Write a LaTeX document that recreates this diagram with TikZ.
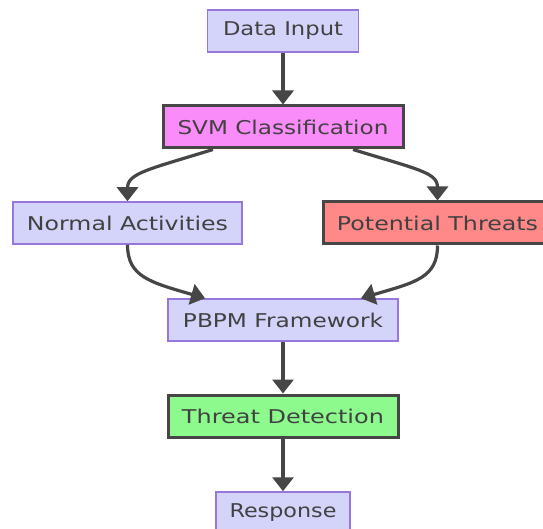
\documentclass[tikz,border=0pt]{standalone}
\usepackage{fontspec}
\setmainfont{DejaVu Sans}
\usetikzlibrary{arrows.meta,calc}
\definecolor{lav}{RGB}{212,212,250}
\definecolor{lavborder}{RGB}{150,120,220}
\definecolor{pinkfill}{RGB}{250,140,250}
\definecolor{redfill}{RGB}{255,136,136}
\definecolor{greenfill}{RGB}{140,250,140}
\definecolor{edgegray}{RGB}{70,70,70}
\definecolor{txtgray}{RGB}{65,65,65}
\newcommand{\lbl}[2]{\resizebox{#1}{\height}{#2}}
\tikzset{
  base/.style={rectangle, inner sep=0pt, minimum height=42pt, text=txtgray,
    font=\fontsize{19}{22}\selectfont},
  plain/.style={base, fill=lav, draw=lavborder, line width=1.5pt},
  hot/.style={base, draw=edgegray, line width=3pt},
  flow/.style={draw=edgegray, line width=3.2pt,
    -{Triangle[width=21pt,length=14pt]}},
}
\begin{document}
\begin{tikzpicture}[x=1pt,y=-1pt]
\useasboundingbox[fill=white] (0,0) rectangle (543,529);
\node[plain, minimum width=151pt] (input) at (283,31) {\lbl{120pt}{Data Input}};
\node[hot, fill=pinkfill, minimum width=240pt] (svm) at (283,127) {\lbl{211pt}{SVM Classification}};
\node[plain, minimum width=229pt] (normal) at (127.5,223) {\lbl{201pt}{Normal Activities}};
\node[hot, fill=redfill, minimum width=229pt] (threats) at (437.5,223) {\lbl{201pt}{Potential Threats}};
\node[plain, minimum width=230pt] (pbpm) at (283,320) {\lbl{200pt}{PBPM Framework}};
\node[hot, fill=greenfill, minimum width=230pt] (detect) at (283,416) {\lbl{202pt}{Threat Detection}};
\node[plain, minimum width=134pt] (resp) at (283,513) {\lbl{107pt}{Response}};

\draw[flow] (input) -- (svm);
\draw[flow] ($(svm.south)+(-70,0)$) .. controls +(-65,20) and +(0,-28) .. (normal.north);
\draw[flow] ($(svm.south)+(70,0)$) .. controls +(65,20) and +(0,-28) .. (threats.north);
\draw[flow] (normal.south) .. controls +(0,32) and +(-55,-16) .. ($(pbpm.north)+(-78,0)$);
\draw[flow] (threats.south) .. controls +(0,32) and +(55,-16) .. ($(pbpm.north)+(78,0)$);
\draw[flow] (pbpm) -- (detect);
\draw[flow] (detect) -- (resp);
\end{tikzpicture}
\end{document}
